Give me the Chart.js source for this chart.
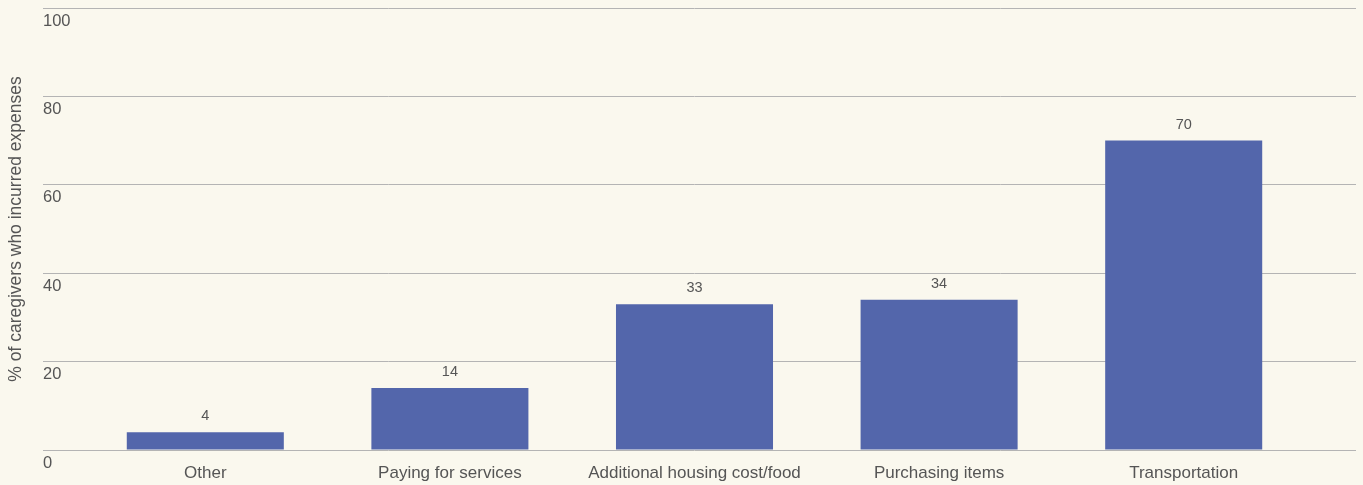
<!DOCTYPE html>
<html>
<head>
<meta charset="utf-8">
<script src="https://cdn.jsdelivr.net/npm/chart.js@4/dist/chart.umd.min.js"></script>
<style>
html,body{margin:0;padding:0;background:#faf8ee;}
#wrap{width:1363px;height:485px;position:relative;}
</style>
</head>
<body>
<div id="wrap"><canvas id="c" width="1363" height="485"></canvas></div>
<script>
const categories = ["Other", "Paying for services", "Additional housing cost/food", "Purchasing items", "Transportation"];
const values = [4, 14, 33, 34, 70];
const yTicks = [0, 20, 40, 60, 80, 100];
const yTitle = "% of caregivers who incurred expenses";

const FONT = "'Liberation Sans', Arial, Helvetica, sans-serif";
const TEXT = "#555555";
const GRID = "#b4b4b4";

const valueLabels = {
  id: 'valueLabels',
  afterDatasetsDraw(chart) {
    const ctx = chart.ctx;
    const meta = chart.getDatasetMeta(0);
    ctx.save();
    ctx.font = "14.5px " + FONT;
    ctx.fillStyle = TEXT;
    ctx.textAlign = 'center';
    ctx.textBaseline = 'middle';
    meta.data.forEach((bar, i) => {
      ctx.fillText(String(values[i]), bar.x, bar.y - 16);
    });
    ctx.restore();
  }
};

new Chart(document.getElementById('c'), {
  type: 'bar',
  data: {
    labels: categories,
    datasets: [{
      data: values,
      backgroundColor: '#5366ab',
      borderWidth: 0,
      barPercentage: 0.642,
      categoryPercentage: 1.0
    }]
  },
  options: {
    responsive: false,
    animation: false,
    layout: { padding: { top: 8, bottom: 2, left: 0, right: 0 } },
    plugins: { legend: { display: false }, tooltip: { enabled: false } },
    scales: {
      x: {
        afterFit(scale) { scale.height = 33; },
        grid: { display: false, drawTicks: false },
        border: { display: false },
        ticks: { color: TEXT, font: { family: FONT, size: 17 }, padding: 13, maxRotation: 0 }
      },
      y: {
        position: 'left',
        min: 0, max: 100,
        afterBuildTicks(scale) { scale.ticks = yTicks.map(v => ({ value: v })); },
        afterFit(scale) { scale.width = 83; },
        grid: { color: GRID, lineWidth: 1, drawTicks: true, tickLength: 40, tickColor: GRID },
        border: { display: false },
        ticks: {
          mirror: true, padding: -40, labelOffset: 13,
          color: TEXT, font: { family: FONT, size: 16.5 }
        },
        title: { display: true, text: yTitle, color: TEXT, font: { family: FONT, size: 17.5 }, padding: { top: 6, bottom: 0 } }
      },
      y2: {
        position: 'right',
        min: 0, max: 100,
        afterBuildTicks(scale) { scale.ticks = yTicks.map(v => ({ value: v })); },
        afterFit(scale) { scale.width = 57; },
        grid: { drawOnChartArea: false, drawTicks: true, tickLength: 50, tickColor: GRID, color: GRID },
        border: { display: false },
        ticks: { display: false }
      }
    }
  },
  plugins: [valueLabels]
});
</script>
</body>
</html>
